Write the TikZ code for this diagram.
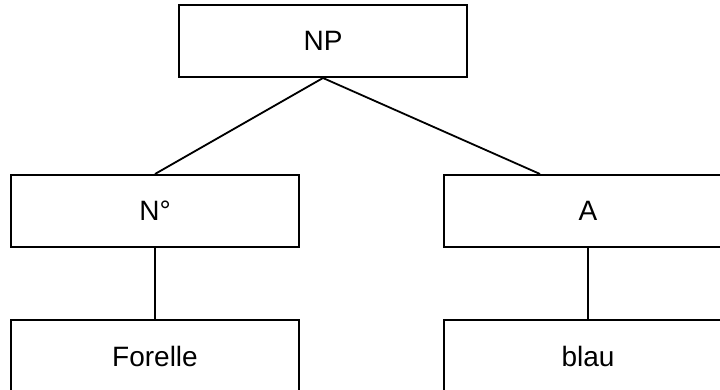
\documentclass[tikz,border=0pt]{standalone}
\usepackage{fontspec}
\setmainfont{Liberation Sans}
\usetikzlibrary{
  matrix,
  positioning
}

\begin{document}
\begin{tikzpicture}[
      x=1pt,y=-1pt,
      category/.style={
         rectangle,
         draw=black,
         line width=2pt,
         minimum width=288pt,
         minimum height=72pt,
         inner sep=0pt,
         font=\fontsize{28}{32}\selectfont
      },
      branch/.style={line width=1.8pt,draw=black},
    ]
    \useasboundingbox (0,0) rectangle (720,390);
    \matrix (m) at (371.5,283.5) [column sep=143pt, row sep=71pt] {
\node (n21) [category] {N°}; & \node (n22) [category] {A};\\
\node (n31) [category] {Forelle}; & \node (n32) [category] {blau};\\
    };
    \node (n11) [category, above=96pt of n21.north, xshift=168pt] {NP};
    \coordinate (n22a) at ([xshift=-48pt]n22.north);
    \draw[branch] (n11.south) -- (n21.north);
    \draw[branch] (n11.south) -- (n22a);
    \draw[branch] (n21.south) -- (n31.north);
    \draw[branch] (n22.south) -- (n32.north);
\end{tikzpicture}
\end{document}
